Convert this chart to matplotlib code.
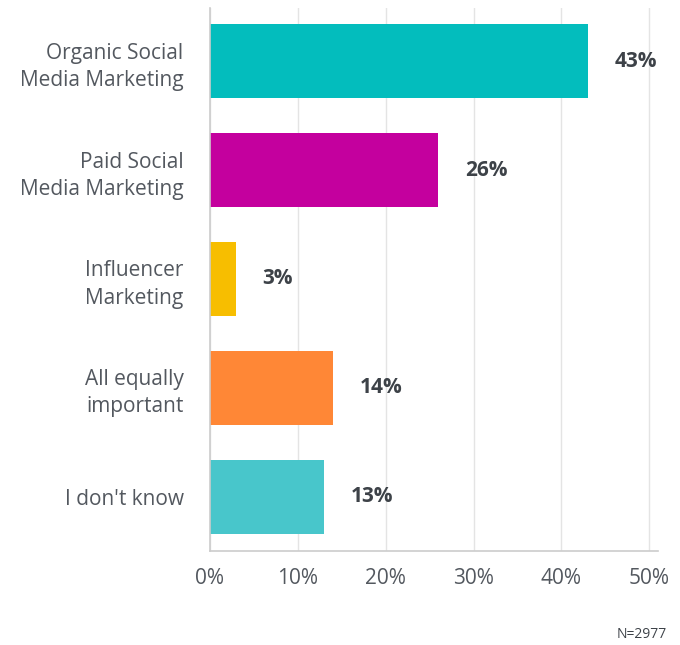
import numpy as np
import matplotlib.pyplot as plt

plt.rcParams['font.family'] = ['Open Sans', 'DejaVu Sans']

# Survey answers and their share of respondents (%)
categories = ['Organic Social\nMedia Marketing', 'Paid Social\nMedia Marketing',
              'Influencer\nMarketing', 'All equally\nimportant', "I don't know"]
shares = [43, 26, 3, 14, 13]
bar_colors = ['#03BDBD', '#C4009E', '#F7BE00', '#FF8736', '#48C6CB']
x_ticks = [0, 10, 20, 30, 40, 50]
sample_note = 'N=2977'

fig = plt.figure(figsize=(6.8, 6.45), dpi=100)
ax = fig.add_axes([0.3088, 0.1457, 0.659, 0.842])

y = np.arange(len(categories))
ax.barh(y, shares, height=0.68, color=bar_colors, zorder=2)

# value labels next to each bar
for yi, v in zip(y, shares):
    ax.annotate(f'{v}%', xy=(v, yi), xytext=(19, 0), textcoords='offset points',
                ha='left', va='center', fontsize=15, fontweight='bold',
                color='#3d4248')

ax.set_yticks(y)
ax.set_yticklabels(categories, fontsize=15, color='#53585f', linespacing=1.38)
ax.set_xticks(x_ticks)
ax.set_xticklabels([f'{t}%' for t in x_ticks], fontsize=15, color='#53585f')
ax.set_xlim(0, 51)
ax.set_ylim(4.5, -0.49)

ax.tick_params(axis='y', length=0, pad=19)
ax.tick_params(axis='x', length=0, pad=12)
ax.grid(axis='x', color='#e4e4e4', linewidth=1, zorder=0)
for side in ['top', 'right']:
    ax.spines[side].set_visible(False)
for side in ['left', 'bottom']:
    ax.spines[side].set_color('#cccccc')
    ax.spines[side].set_linewidth(1.2)

fig.text(0.981, 0.017, sample_note, ha='right', va='center', fontsize=10,
         color='#3d4248')

plt.savefig('out.png', dpi=100)
plt.close()
